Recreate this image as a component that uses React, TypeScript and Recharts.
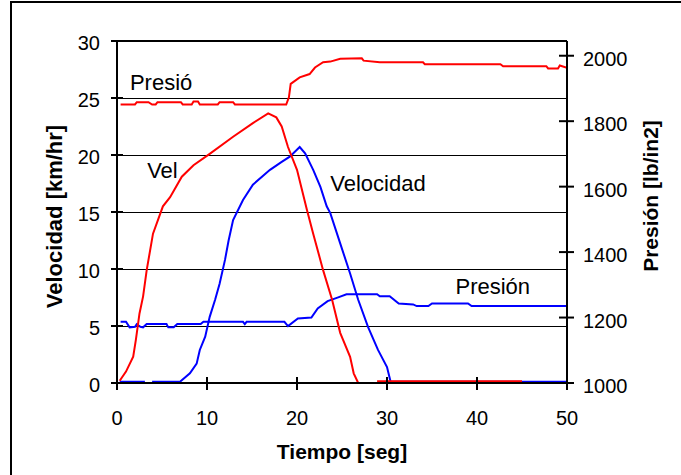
import React from "react";
import {
	LineChart,
	Line,
	XAxis,
	YAxis,
	CartesianGrid,
	ReferenceDot,
	ReferenceLine,
	Label,
} from "recharts";

const FONT = "'Liberation Sans', Arial, Helvetica, sans-serif";

// [tiempo (seg), velocidad (km/hr)] - null = tramo oculto bajo el eje
const velRoja: [number, number | null][] = [
	[0.3, 0.2], [1.0, 1.0], [1.8, 2.3], [2.1, 3.8], [2.5, 6.1], [2.9, 7.6], [3.3, 9.9],
	[4.0, 13.1], [5.1, 15.5], [5.9, 16.3], [7.2, 18.1], [8.5, 19.1], [10.3, 20.1],
	[12.9, 21.6], [15.1, 22.8], [16.8, 23.65], [17.7, 23.3], [18.3, 22.5], [19.0, 20.7],
	[20.0, 18.7], [21.1, 15.2], [21.8, 13.1], [22.9, 9.9], [23.9, 7.3], [24.8, 4.4],
	[25.9, 2.3], [26.3, 0.85], [26.8, 0], [27.8, null], [28.9, 0.15], [45, 0.15],
];

const velAzul: [number, number | null][] = [
	[0.3, 0.1], [3.1, 0.1], [3.5, null], [3.9, 0.1], [7.0, 0.1], [8.1, 0.85],
	[8.85, 1.7], [9.2, 2.9], [9.8, 4.06], [10.3, 5.8], [10.9, 7.3], [11.4, 8.7],
	[12.0, 10.8], [12.4, 12.5], [12.9, 14.3], [14.0, 16.05], [15.1, 17.4], [17.0, 18.7],
	[18.3, 19.4], [19.2, 19.85], [20.3, 20.7], [20.9, 20.15], [21.8, 18.7], [22.6, 17.2],
	[23.3, 15.5], [23.7, 14.9], [24.8, 12.25], [25.9, 9.6], [26.8, 7.3], [27.9, 4.9],
	[29.0, 2.9], [30.0, 1.4], [30.4, 0.1], [50, 0.1],
];

// [tiempo (seg), presión (lb/in2)]
const presRoja: [number, number][] = [
	[0.4, 1851], [2.0, 1851], [2.2, 1858], [3.5, 1858], [3.9, 1851], [4.3, 1851],
	[4.5, 1858], [7.1, 1858], [7.3, 1851], [8.3, 1851], [8.5, 1860], [9.0, 1860],
	[9.2, 1851], [11.2, 1851], [11.4, 1858], [12.9, 1858], [13.1, 1851], [18.8, 1851],
	[19.1, 1873], [19.3, 1914], [20.3, 1934], [21.4, 1944], [22.0, 1964], [22.9, 1980],
	[23.7, 1982], [24.8, 1991], [27.2, 1992], [27.4, 1985], [29.2, 1980], [34.0, 1980],
	[34.2, 1974], [42.6, 1974], [42.9, 1968], [47.7, 1968], [47.9, 1961], [49.0, 1961],
	[49.2, 1970], [50, 1963],
];

const presAzul: [number, number][] = [
	[0.4, 1187], [1.0, 1187], [1.4, 1170], [2.0, 1172], [2.2, 1180], [2.6, 1172],
	[2.9, 1170], [3.3, 1180], [5.5, 1180], [5.7, 1170], [6.3, 1170], [6.7, 1180],
	[9.3, 1180], [9.6, 1187], [14.0, 1187], [14.2, 1180], [14.4, 1187], [18.6, 1187],
	[19.0, 1174], [20.1, 1197], [21.6, 1200], [22.3, 1228], [23.4, 1250], [24.5, 1261],
	[25.5, 1271], [28.9, 1271], [29.2, 1265], [30.3, 1265], [31.3, 1243], [32.9, 1240],
	[33.3, 1235], [34.6, 1235], [35.0, 1243], [39.0, 1243], [39.4, 1235], [50, 1235],
];

const ticksTiempo = [0, 10, 20, 30, 40, 50];
const ticksVel = [0, 5, 10, 15, 20, 25, 30];
const ticksPres = [1000, 1200, 1400, 1600, 1800, 2000];

// rótulos dentro del gráfico (en coordenadas tiempo / velocidad)
const rotulos = [
	{ texto: "Presió", t: 4.9, v: 26.4 },
	{ texto: "Vel", t: 5.05, v: 18.7 },
	{ texto: "Velocidad", t: 29.0, v: 17.5 },
	{ texto: "Presión", t: 41.75, v: 8.5 },
];

const aPuntos = (serie: [number, number | null][]) =>
	serie.map(([t, v]) => ({ t, v }));

const TickX = ({ x, y, payload }: any) => (
	<g>
		<line x1={x} y1={y - 6} x2={x} y2={y + 7} stroke="#000" strokeWidth={2} />
		<text x={x} y={y + 42} textAnchor="middle" fontSize={20} fontFamily={FONT} fill="#000">
			{payload.value}
		</text>
	</g>
);

const TickIzq = ({ x, y, payload }: any) => (
	<g>
		<line x1={x - 6} y1={y} x2={x + 6} y2={y} stroke="#000" strokeWidth={2} />
		<text x={x - 17} y={y + 9} textAnchor="end" fontSize={20} fontFamily={FONT} fill="#000">
			{payload.value}
		</text>
	</g>
);

const TickDer = ({ x, y, payload }: any) => (
	<g>
		<line x1={x - 8} y1={y} x2={x + 7} y2={y} stroke="#000" strokeWidth={2} />
		<text x={x + 16} y={y + 10} textAnchor="start" fontSize={20} fontFamily={FONT} fill="#000">
			{payload.value}
		</text>
	</g>
);

// líneas de cuadrícula nítidas (1px negro)
const LineaGrid = (props: any) => (
	<line
		key={props.key ?? `${props.y1}`}
		x1={props.x1}
		y1={props.y1}
		x2={props.x2}
		y2={props.y2}
		stroke="#000"
		strokeWidth={1}
		shapeRendering="crispEdges"
	/>
);

const App = () => {
	return (
		<div style={{ position: "absolute", left: 0, top: 0, width: 681, height: 475, overflow: "hidden", background: "#fff" }}>
			<div
				style={{
					position: "absolute",
					left: 10,
					top: 1,
					width: 800,
					height: 600,
					borderLeft: "2px solid #000",
					borderTop: "2px solid #000",
				}}
			/>
			<div style={{ position: "absolute", left: 0, top: 0 }}>
				<LineChart width={681} height={475} margin={{ top: 41, right: 14, bottom: 32, left: 17 }}>
					<CartesianGrid yAxisId="vel" vertical={false} horizontal={LineaGrid} stroke="#000" strokeWidth={1} />
					<XAxis
						dataKey="t"
						type="number"
						domain={[0, 50]}
						ticks={ticksTiempo}
						height={60}
						tickSize={0}
						tickMargin={0}
						tickLine={false}
						axisLine={{ stroke: "#000", strokeWidth: 2 }}
						tick={TickX}
						allowDataOverflow
					>
						<Label
							content={() => (
								<text x={342} y={459} textAnchor="middle" fontSize={21} fontWeight="bold" fontFamily={FONT} fill="#000">
									Tiempo [seg]
								</text>
							)}
						/>
					</XAxis>
					<YAxis
						yAxisId="vel"
						orientation="left"
						domain={[0, 30]}
						ticks={ticksVel}
						width={100}
						tickSize={0}
						tickMargin={0}
						tickLine={false}
						axisLine={{ stroke: "#000", strokeWidth: 2 }}
						tick={TickIzq}
						allowDataOverflow
					>
						<Label
							content={() => (
								<text
									transform="translate(61.5,216.5) rotate(-90)"
									textAnchor="middle"
									fontSize={22}
									fontWeight="bold"
									fontFamily={FONT}
									fill="#000"
								>
									Velocidad [km/hr]
								</text>
							)}
						/>
					</YAxis>
					<YAxis
						yAxisId="pres"
						orientation="right"
						domain={[1000, 2045]}
						ticks={ticksPres}
						width={100}
						tickSize={0}
						tickMargin={0}
						tickLine={false}
						axisLine={{ stroke: "#000", strokeWidth: 2 }}
						tick={TickDer}
						allowDataOverflow
					>
						<Label
							content={() => (
								<text
									transform="translate(658,196) rotate(-90)"
									textAnchor="middle"
									fontSize={21}
									fontWeight="bold"
									fontFamily={FONT}
									fill="#000"
								>
									Presión [lb/in2]
								</text>
							)}
						/>
					</YAxis>
					<ReferenceLine yAxisId="vel" y={30} stroke="#000" strokeWidth={2} />

					<Line
						data={aPuntos(presAzul)}
						dataKey="v"
						yAxisId="pres"
						type="linear"
						stroke="#0000FF"
						strokeWidth={2}
						dot={false}
						isAnimationActive={false}
					/>
					<Line
						data={aPuntos(velAzul)}
						dataKey="v"
						yAxisId="vel"
						type="linear"
						stroke="#0000FF"
						strokeWidth={2}
						dot={false}
						isAnimationActive={false}
					/>
					<Line
						data={aPuntos(presRoja)}
						dataKey="v"
						yAxisId="pres"
						type="linear"
						stroke="#FF0000"
						strokeWidth={2}
						dot={false}
						isAnimationActive={false}
					/>
					<Line
						data={aPuntos(velRoja)}
						dataKey="v"
						yAxisId="vel"
						type="linear"
						stroke="#FF0000"
						strokeWidth={2}
						dot={false}
						isAnimationActive={false}
					/>

					{rotulos.map((r) => (
						<ReferenceDot
							key={r.texto}
							x={r.t}
							y={r.v}
							yAxisId="vel"
							r={1}
							fill="none"
							stroke="none"
							label={{
								value: r.texto,
								position: "center",
								fontSize: 22,
								fontFamily: FONT,
								fill: "#000",
							}}
						/>
					))}
				</LineChart>
			</div>
		</div>
	);
};

export default App;
